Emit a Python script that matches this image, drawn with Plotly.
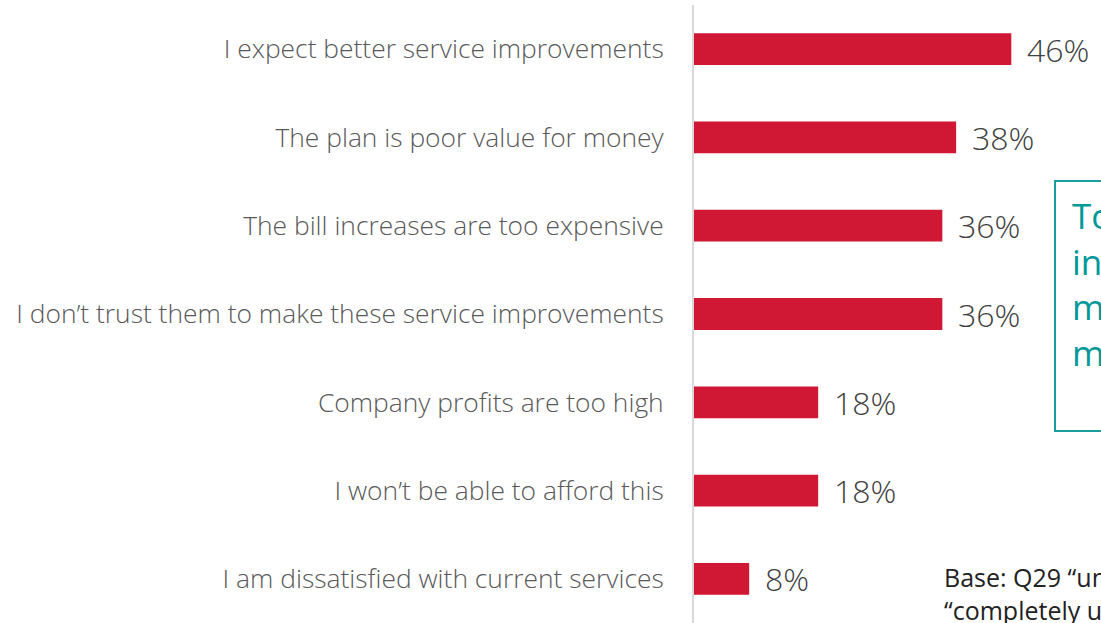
import plotly.graph_objects as go

categories = [
    "I expect better service improvements",
    "The plan is poor value for money",
    "The bill increases are too expensive",
    "I don\u2019t trust them to make these service improvements",
    "Company profits are too high",
    "I won\u2019t be able to afford this",
    "I am dissatisfied with current services",
]
values = [46, 38, 36, 36, 18, 18, 8]
value_labels = [f"{v}%" for v in values]

box_text = "Top reasons<br>include<br>money<br>matters"
base_text = "Base: Q29 \u201cunacceptable\u201d or<br>\u201ccompletely unacceptable\u201d"

FONT = "Open Sans"

fig = go.Figure()
fig.add_trace(go.Bar(
    x=values, y=categories, orientation="h",
    marker=dict(color="#D01733", line=dict(width=0)),
    width=0.36, hoverinfo="skip",
))

for c, v, t in zip(categories, values, value_labels):
    fig.add_annotation(x=v, y=c, text=t, xref="x", yref="y", showarrow=False,
                       xanchor="left", yanchor="middle", xshift=14,
                       font=dict(family=FONT, size=32, color="#404040", weight=300))

fig.add_shape(type="rect", xref="paper", yref="paper",
              x0=(1055 - 694) / 407, x1=1.2, y0=1 - (431 - 5) / 618, y1=1 - (181 - 5) / 618,
              line=dict(color="#1A9E9E", width=2), fillcolor="rgba(0,0,0,0)")
fig.add_annotation(xref="paper", yref="paper", x=(1070 - 694) / 407, y=1 - (190 - 5) / 618,
                   text=box_text, showarrow=False, xanchor="left", yanchor="top", align="left",
                   font=dict(family=FONT, size=35, color="#009999"))
fig.add_annotation(xref="paper", yref="paper", x=(942 - 694) / 407, y=1 - (558 - 5) / 618,
                   text=base_text, showarrow=False, xanchor="left", yanchor="top", align="left",
                   font=dict(family=FONT, size=25, color="#222222"))

fig.update_layout(
    width=1101, height=623,
    margin=dict(l=694, r=0, t=5, b=0),
    paper_bgcolor="white", plot_bgcolor="white",
    showlegend=False,
    xaxis=dict(range=[0, 59], visible=False, fixedrange=True),
    yaxis=dict(autorange="reversed", showline=True, linecolor="#D9D9D9", linewidth=2,
               showgrid=False, ticks="", ticklabelstandoff=23, fixedrange=True,
               tickfont=dict(family=FONT, size=26.4, color="#595959", weight=300)),
)
fig.write_html("out.html", config={"displayModeBar": False},
               post_script="document.body.style.margin='0';")
